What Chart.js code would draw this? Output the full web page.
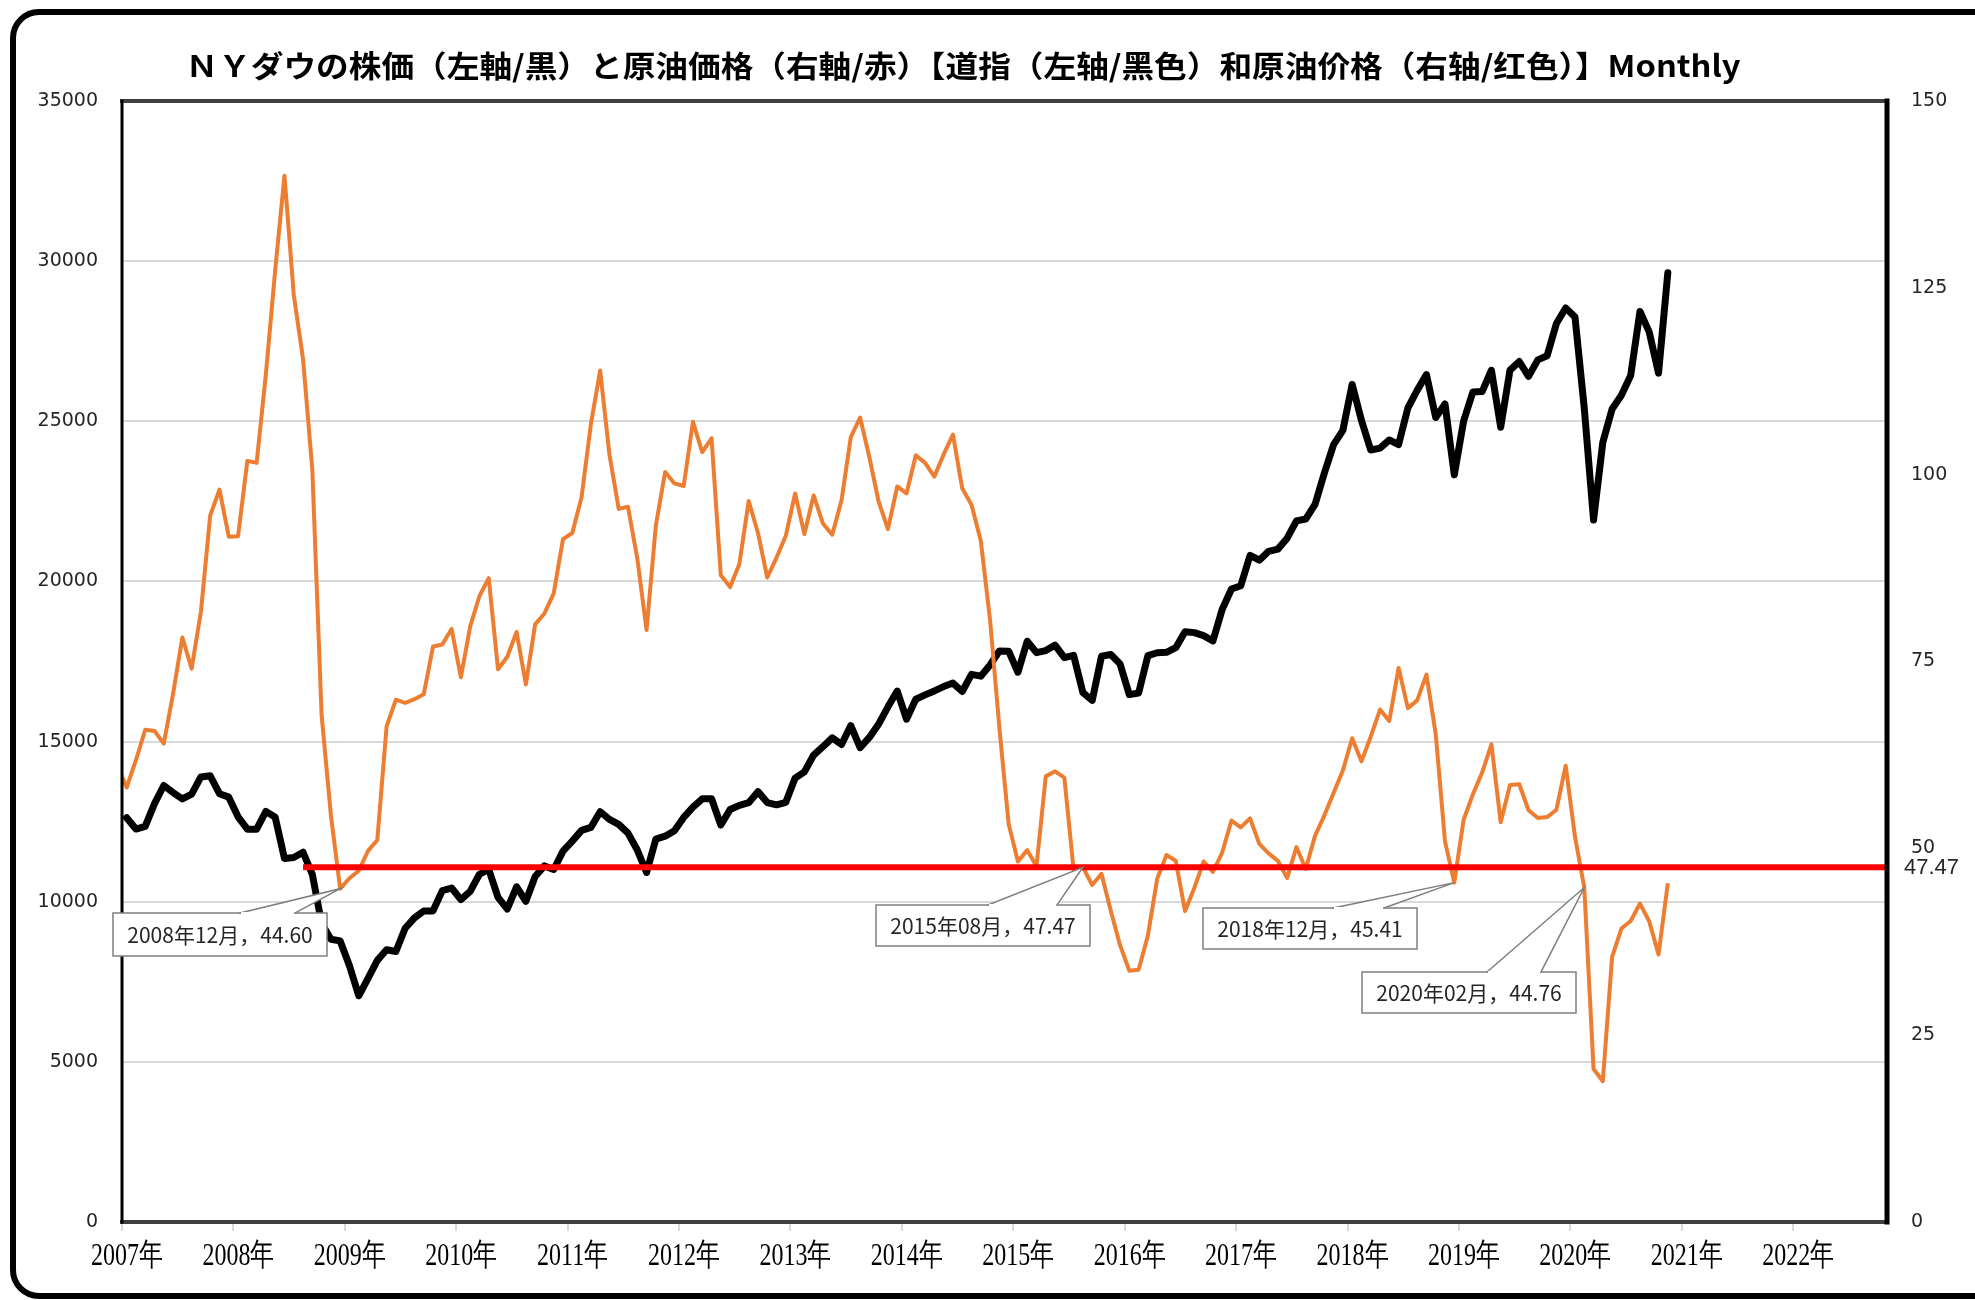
<!DOCTYPE html>
<html>
<head>
<meta charset="utf-8">
<script src="https://cdn.jsdelivr.net/npm/chart.js@4.4.1/dist/chart.umd.min.js"></script>
<style>
  html, body { margin: 0; padding: 0; background: #fff; }
  canvas { display: block; }
</style>
</head>
<body>
<canvas id="chartCanvas" width="1975" height="1300"></canvas>
<script>
const titleText = 'ＮＹダウの株価（左軸/黒）と原油価格（右軸/赤）【道指（左轴/黑色）和原油价格（右轴/红色）】Monthly';

const yearLabels = ['2007年', '2008年', '2009年', '2010年', '2011年', '2012年', '2013年', '2014年',
  '2015年', '2016年', '2017年', '2018年', '2019年', '2020年', '2021年', '2022年'];

// NY Dow, month-end close, Jan 2007 .. Nov 2020
const dowClose = [
  12622, 12269, 12354, 13063, 13628, 13409, 13212, 13358, 13896, 13930, 13372, 13265,
  12650, 12266, 12263, 12820, 12638, 11350, 11378, 11544, 10851, 9325, 8829, 8776,
  8001, 7063, 7609, 8168, 8500, 8447, 9172, 9496, 9712, 9713, 10345, 10428,
  10067, 10325, 10857, 11009, 10137, 9774, 10466, 10015, 10788, 11118, 11006, 11578,
  11892, 12226, 12320, 12811, 12570, 12414, 12143, 11614, 10913, 11955, 12046, 12218,
  12633, 12952, 13212, 13214, 12393, 12880, 13009, 13091, 13437, 13096, 13026, 13104,
  13861, 14054, 14579, 14840, 15116, 14910, 15500, 14810, 15130, 15546, 16086, 16577,
  15699, 16322, 16458, 16581, 16717, 16827, 16563, 17098, 17043, 17391, 17828, 17823,
  17165, 18133, 17776, 17841, 18011, 17620, 17690, 16528, 16285, 17664, 17720, 17425,
  16466, 16517, 17685, 17774, 17787, 17930, 18432, 18401, 18308, 18142, 19124, 19763,
  19864, 20812, 20663, 20941, 21009, 21350, 21891, 21948, 22405, 23377, 24272, 24719,
  26149, 25029, 24103, 24163, 24416, 24271, 25415, 25965, 26458, 25116, 25538, 23327,
  25000, 25916, 25929, 26593, 24815, 26600, 26864, 26403, 26917, 27046, 28051, 28538,
  28256, 25409, 21917, 24346, 25383, 25813, 26428, 28430, 27782, 26502, 29639
];

// WTI crude, month-end, Dec 2006 .. Nov 2020
const oilClose = [
  61.05,
  58.14, 61.79, 65.87, 65.71, 64.01, 70.68, 78.21, 74.04, 81.66, 94.53, 98.00, 91.70,
  91.75, 101.84, 101.58, 113.46, 127.35, 140.00, 124.08, 115.46, 100.64, 67.81, 54.43, 44.60,
  46.00, 47.00, 49.66, 51.12, 66.31, 69.89, 69.45, 69.96, 70.61, 77.00, 77.28, 79.36,
  72.89, 79.66, 83.76, 86.15, 73.97, 75.63, 78.95, 71.92, 79.97, 81.43, 84.11, 91.38,
  92.19, 96.97, 106.72, 113.93, 102.70, 95.42, 95.70, 88.81, 79.20, 93.19, 100.36, 98.83,
  98.48, 107.07, 103.02, 104.87, 86.53, 84.96, 88.06, 96.47, 92.19, 86.24, 88.91, 91.82,
  97.49, 92.05, 97.23, 93.46, 91.97, 96.56, 105.03, 107.65, 102.33, 96.38, 92.72, 98.42,
  97.49, 102.59, 101.58, 99.74, 102.71, 105.37, 98.17, 95.96, 91.16, 80.54, 66.15, 53.27,
  48.24, 49.76, 47.60, 59.63, 60.30, 59.47, 47.12, 47.47, 45.09, 46.59, 41.65, 37.04,
  33.62, 33.75, 38.34, 45.92, 49.10, 48.33, 41.60, 44.70, 48.24, 46.86, 49.44, 53.72,
  52.81, 54.01, 50.60, 49.33, 48.32, 46.04, 50.17, 47.23, 51.67, 54.38, 57.40, 60.42,
  64.73, 61.64, 64.94, 68.57, 67.04, 74.15, 68.76, 69.80, 73.25, 65.31, 50.93, 45.41,
  53.79, 57.22, 60.14, 63.91, 53.50, 58.47, 58.58, 55.10, 54.07, 54.18, 55.17, 61.06,
  51.56, 44.76, 20.48, 18.84, 35.49, 39.27, 40.27, 42.61, 40.22, 35.79, 45.34
];

const calloutMonths = ['2008-12', '2015-08', '2018-12', '2020-02'];
const levelMonth = '2015-08';
const levelStart = '2008-08';
const levelEnd = '2022-11';

// months counted from Jan 2007; a month's point sits mid-month
function monthIndex(key) {
  const [y, m] = key.split('-').map(Number);
  return (y - 2007) * 12 + (m - 1);
}
const oilIndex = key => monthIndex(key) + 1;

const lineLevel = oilClose[oilIndex(levelMonth)];

const dowPoints = dowClose.map((v, i) => ({ x: i + 0.5, y: v }));
const oilPoints = oilClose.map((v, j) => ({ x: j - 0.5, y: v }));
const levelPoints = [levelStart, levelEnd].map(k => ({ x: monthIndex(k) + 0.5, y: lineLevel }));

const calloutBoxes = [
  { x: 113, y: 913, w: 214, h: 43, baseL: 240, baseR: 295 },
  { x: 876, y: 905, w: 214, h: 41, baseL: 988, baseR: 1057 },
  { x: 1203, y: 908, w: 214, h: 41, baseL: 1333, baseR: 1384 },
  { x: 1362, y: 972, w: 214, h: 41, baseL: 1487, baseR: 1541 }
];

const decorPlugin = {
  id: 'decor',
  beforeDraw(chart) {
    const ctx = chart.ctx;
    ctx.save();
    ctx.fillStyle = '#fff';
    ctx.fillRect(0, 0, chart.width, chart.height);

    // outer rounded frame
    ctx.lineWidth = 6;
    ctx.strokeStyle = '#000';
    ctx.beginPath();
    ctx.roundRect(13, 12, 2100, 1284, 26);
    ctx.stroke();

    // title, squeezed to the reference width
    ctx.font = 'bold 30px "Noto Sans CJK JP"';
    const w = ctx.measureText(titleText).width;
    ctx.translate(963, 66);
    ctx.scale(1555 / w, 1);
    ctx.fillStyle = '#000';
    ctx.textAlign = 'center';
    ctx.textBaseline = 'middle';
    ctx.fillText(titleText, 0, 0);
    ctx.restore();
  },
  afterDatasetsDraw(chart) {
    const ctx = chart.ctx;
    const area = chart.chartArea;
    ctx.save();

    // plot frame
    ctx.lineCap = 'square';
    ctx.strokeStyle = '#404040';
    ctx.lineWidth = 4;
    ctx.beginPath();
    ctx.moveTo(area.left, area.top); ctx.lineTo(area.right, area.top);
    ctx.moveTo(area.left, area.bottom); ctx.lineTo(area.right, area.bottom);
    ctx.stroke();
    ctx.strokeStyle = '#000';
    ctx.lineWidth = 3;
    ctx.beginPath();
    ctx.moveTo(area.left, area.top); ctx.lineTo(area.left, area.bottom);
    ctx.stroke();
    ctx.lineWidth = 5;
    ctx.beginPath();
    ctx.moveTo(area.right + 1, area.top); ctx.lineTo(area.right + 1, area.bottom);
    ctx.stroke();

    // year labels, condensed serif
    const xs = chart.scales.x;
    ctx.fillStyle = '#000';
    ctx.font = '32px "Liberation Serif"';
    ctx.textAlign = 'center';
    ctx.textBaseline = 'middle';
    yearLabels.forEach((label, k) => {
      ctx.save();
      ctx.translate(xs.getPixelForValue(k * 12) + 5, 1257);
      ctx.scale(0.75, 1);
      ctx.fillText(label, 0, 0);
      ctx.restore();
    });

    // data callouts on the oil line
    const oilMeta = chart.getDatasetMeta(1);
    calloutMonths.forEach((key, n) => {
      const idx = oilIndex(key);
      const pt = oilMeta.data[idx];
      const box = calloutBoxes[n];
      const [yy, mm] = key.split('-');
      const text = `${yy}年${mm}月，${oilClose[idx].toFixed(2)}`;

      ctx.fillStyle = '#fff';
      ctx.fillRect(box.x, box.y, box.w, box.h);
      ctx.strokeStyle = '#7f7f7f';
      ctx.lineWidth = 1.5;
      ctx.strokeRect(box.x, box.y, box.w, box.h);

      ctx.beginPath();
      ctx.moveTo(box.baseL, box.y);
      ctx.lineTo(pt.x, pt.y);
      ctx.lineTo(box.baseR, box.y);
      ctx.closePath();
      ctx.fill();
      ctx.beginPath();
      ctx.moveTo(box.baseL, box.y);
      ctx.lineTo(pt.x, pt.y);
      ctx.lineTo(box.baseR, box.y);
      ctx.stroke();
      ctx.fillRect(box.baseL + 1, box.y - 1, box.baseR - box.baseL - 2, 3);

      ctx.fillStyle = '#262626';
      ctx.font = '21px "Noto Sans CJK JP"';
      ctx.textAlign = 'center';
      ctx.textBaseline = 'middle';
      ctx.fillText(text, box.x + box.w / 2, box.y + box.h / 2 + 1);
    });

    // value label for the level line
    ctx.fillStyle = '#262626';
    ctx.font = '22px "Liberation Sans"';
    ctx.textAlign = 'left';
    ctx.textBaseline = 'middle';
    ctx.fillText(lineLevel.toFixed(2), area.right + 18, chart.scales.y1.getPixelForValue(lineLevel) + 1);
    ctx.restore();
  }
};

const axisFont = { family: 'DejaVu Sans', size: 19 };

new Chart(document.getElementById('chartCanvas'), {
  type: 'line',
  data: {
    datasets: [
      {
        label: 'level',
        data: levelPoints,
        yAxisID: 'y1',
        borderColor: '#ff0000',
        borderWidth: 6,
        pointRadius: 0,
        order: 0
      },
      {
        label: '原油価格',
        data: oilPoints,
        yAxisID: 'y1',
        borderColor: '#ed7d31',
        borderWidth: 4,
        borderJoinStyle: 'round',
        pointRadius: 0,
        order: 1
      },
      {
        label: 'NYダウ',
        data: dowPoints,
        yAxisID: 'y',
        borderColor: '#000',
        borderWidth: 7,
        borderJoinStyle: 'round',
        borderCapStyle: 'round',
        pointRadius: 0,
        order: 2
      }
    ]
  },
  options: {
    responsive: false,
    devicePixelRatio: 1,
    animation: false,
    layout: { padding: { top: 101, left: 0, right: 0, bottom: 0 } },
    plugins: {
      legend: { display: false },
      tooltip: { enabled: false },
      title: { display: false }
    },
    scales: {
      x: {
        type: 'linear',
        min: 0,
        max: 190,
        afterBuildTicks: scale => {
          scale.ticks = yearLabels.map((_, k) => ({ value: k * 12 }));
        },
        ticks: { display: false },
        grid: { drawOnChartArea: false, drawTicks: true, tickLength: 9, color: '#d9d9d9', lineWidth: 2 },
        border: { display: false },
        afterFit: scale => { scale.height = 78; }
      },
      y: {
        position: 'left',
        min: 0,
        max: 35000,
        ticks: {
          stepSize: 5000,
          padding: 24,
          font: axisFont,
          color: '#262626',
          callback: v => String(v)
        },
        grid: { color: '#d9d9d9', lineWidth: 2, drawTicks: false },
        border: { display: false },
        afterFit: scale => { scale.width = 122; }
      },
      y1: {
        position: 'right',
        min: 0,
        max: 150,
        ticks: {
          stepSize: 25,
          padding: 25,
          font: axisFont,
          color: '#262626',
          callback: v => String(v)
        },
        grid: { drawOnChartArea: false, drawTicks: false },
        border: { display: false },
        afterFit: scale => { scale.width = 89; }
      }
    }
  },
  plugins: [decorPlugin]
});
</script>
</body>
</html>
